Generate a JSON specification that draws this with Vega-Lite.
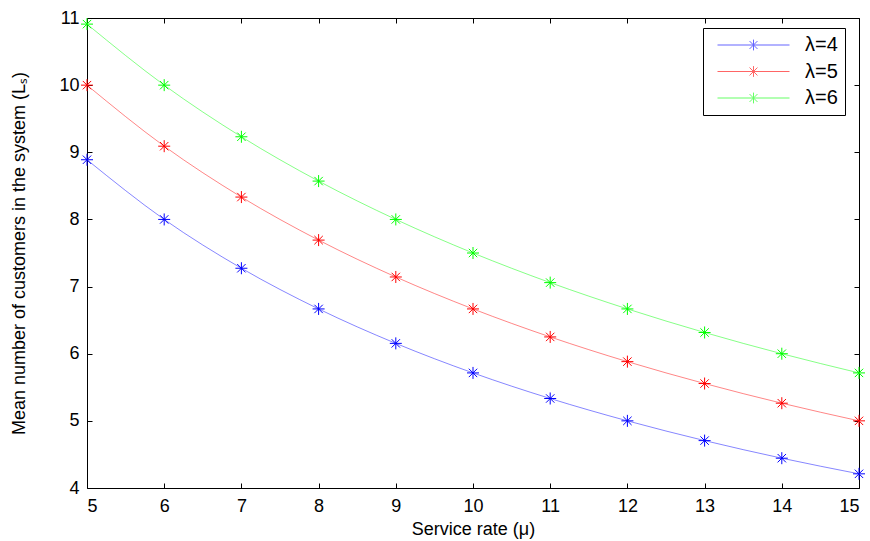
{
  "$schema": "https://vega.github.io/schema/vega-lite/v6.json",
  "width": 772,
  "height": 470,
  "autosize": {"type": "none"},
  "padding": {"left": 87, "top": 18, "right": 11, "bottom": 53},
  "background": "white",
  "config": {
    "font": "Liberation Sans",
    "view": {"stroke": "black", "strokeWidth": 1},
    "axis": {
      "grid": false,
      "domain": false,
      "tickColor": "black",
      "tickWidth": 1,
      "tickSize": 5,
      "offset": -5,
      "labelColor": "black",
      "labelFont": "Liberation Sans",
      "labelFontSize": 18,
      "titleColor": "black",
      "titleFont": "Liberation Sans",
      "titleFontSize": 18,
      "titleFontWeight": "normal"
    }
  },
  "data": {
    "values": [
      {"mu": 5, "Ls": 8.889, "series": "λ=4"},
      {"mu": 6, "Ls": 8.0, "series": "λ=4"},
      {"mu": 7, "Ls": 7.273, "series": "λ=4"},
      {"mu": 8, "Ls": 6.667, "series": "λ=4"},
      {"mu": 9, "Ls": 6.154, "series": "λ=4"},
      {"mu": 10, "Ls": 5.714, "series": "λ=4"},
      {"mu": 11, "Ls": 5.333, "series": "λ=4"},
      {"mu": 12, "Ls": 5.0, "series": "λ=4"},
      {"mu": 13, "Ls": 4.706, "series": "λ=4"},
      {"mu": 14, "Ls": 4.444, "series": "λ=4"},
      {"mu": 15, "Ls": 4.211, "series": "λ=4"},
      {"mu": 5, "Ls": 10.0, "series": "λ=5"},
      {"mu": 6, "Ls": 9.091, "series": "λ=5"},
      {"mu": 7, "Ls": 8.333, "series": "λ=5"},
      {"mu": 8, "Ls": 7.692, "series": "λ=5"},
      {"mu": 9, "Ls": 7.143, "series": "λ=5"},
      {"mu": 10, "Ls": 6.667, "series": "λ=5"},
      {"mu": 11, "Ls": 6.25, "series": "λ=5"},
      {"mu": 12, "Ls": 5.882, "series": "λ=5"},
      {"mu": 13, "Ls": 5.556, "series": "λ=5"},
      {"mu": 14, "Ls": 5.263, "series": "λ=5"},
      {"mu": 15, "Ls": 5.0, "series": "λ=5"},
      {"mu": 5, "Ls": 10.909, "series": "λ=6"},
      {"mu": 6, "Ls": 10.0, "series": "λ=6"},
      {"mu": 7, "Ls": 9.231, "series": "λ=6"},
      {"mu": 8, "Ls": 8.571, "series": "λ=6"},
      {"mu": 9, "Ls": 8.0, "series": "λ=6"},
      {"mu": 10, "Ls": 7.5, "series": "λ=6"},
      {"mu": 11, "Ls": 7.059, "series": "λ=6"},
      {"mu": 12, "Ls": 6.667, "series": "λ=6"},
      {"mu": 13, "Ls": 6.316, "series": "λ=6"},
      {"mu": 14, "Ls": 6.0, "series": "λ=6"},
      {"mu": 15, "Ls": 5.714, "series": "λ=6"}
    ]
  },
  "layer": [
    {
      "mark": {"type": "line", "interpolate": "monotone", "strokeWidth": 0.8, "opacity": 0.6},
      "encoding": {
        "x": {
          "field": "mu", "type": "quantitative",
          "scale": {"domain": [5, 15], "nice": false, "zero": false},
          "axis": {"orient": "bottom", "title": "Service rate (μ)", "values": [5,6,7,8,9,10,11,12,13,14,15], "labelPadding": 9, "titlePadding": 5}
        },
        "y": {
          "field": "Ls", "type": "quantitative",
          "scale": {"domain": [4, 11], "nice": false, "zero": false},
          "axis": {"orient": "left", "title": "Mean number of customers in the system (Lₛ)", "values": [4,5,6,7,8,9,10,11], "labelPadding": 8, "titlePadding": 30}
        },
        "color": {
          "field": "series", "type": "nominal",
          "scale": {"domain": ["λ=4", "λ=5", "λ=6"], "range": ["#0000ff", "#ff0000", "#00ff00"]},
          "legend": {
            "title": null,
            "orient": "none",
            "legendX": 616,
            "legendY": 10,
            "strokeColor": "black",
            "fillColor": "white",
            "padding": 7,
            "rowPadding": 6.5,
            "clipHeight": 20,
            "labelFontSize": 20,
            "labelFont": "Liberation Sans",
            "labelColor": "black",
            "labelOffset": 15,
            "symbolOffset": 7,
            "symbolType": "M-1,0L1,0M0,-0.15L0,0.15M-0.11,-0.11L0.11,0.11M-0.11,0.11L0.11,-0.11",
            "symbolSize": 5184,
            "symbolStrokeWidth": 1,
            "symbolFillColor": "transparent"
          }
        }
      }
    },
    {
      "mark": {"type": "point", "shape": "M-1,0L1,0M0,-1L0,1M-0.7,-0.7L0.7,0.7M-0.7,0.7L0.7,-0.7", "filled": false, "size": 144, "strokeWidth": 1, "opacity": 1},
      "encoding": {
        "x": {
          "field": "mu", "type": "quantitative",
          "scale": {"domain": [5, 15], "nice": false, "zero": false},
          "axis": {"orient": "top", "title": null, "labels": false, "values": [5,6,7,8,9,10,11,12,13,14,15]}
        },
        "y": {
          "field": "Ls", "type": "quantitative",
          "scale": {"domain": [4, 11], "nice": false, "zero": false},
          "axis": {"orient": "right", "title": null, "labels": false, "values": [4,5,6,7,8,9,10,11]}
        },
        "color": {"field": "series", "type": "nominal"}
      }
    }
  ],
  "resolve": {"axis": {"x": "independent", "y": "independent"}}
}
